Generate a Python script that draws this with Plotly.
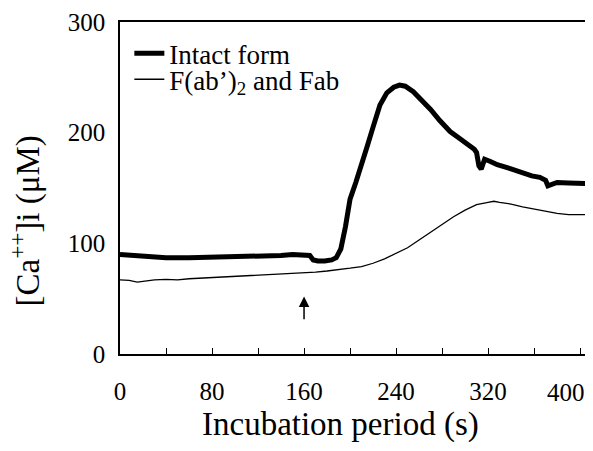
import plotly.graph_objects as go

# time (s) and [Ca++]i (uM)
intact_t = [0, 10, 20, 30, 40, 60, 80, 100, 120, 140, 150, 160, 165, 168, 172, 178, 184, 188, 192,
            196, 200, 205, 210, 215, 220, 226, 232, 238, 243, 248, 255, 262, 270, 278, 287, 295,
            302, 308, 310, 312, 314, 317, 322, 328, 338, 348, 358, 365, 370, 372, 375, 380, 390,
            400, 406]
intact_ca = [90, 89, 88, 87.5, 87, 87, 87.5, 88, 88, 89, 90, 90, 89, 85, 84, 84, 85, 87, 95,
             115, 140, 155, 170, 188, 205, 225, 236, 241, 243, 242, 237, 230, 221, 211, 201, 195,
             190, 185, 182, 170, 167, 176, 174, 171, 168, 164, 161, 159.6, 157, 152, 153, 155, 154.5,
             154, 154]

frag_t = [0, 8, 15, 22, 30, 40, 50, 60, 70, 80, 90, 100, 110, 120, 130, 140, 150, 160, 170, 180,
          190, 200, 210, 220, 230, 240, 250, 260, 270, 280, 290, 300, 310, 320, 325, 330, 340, 350,
          360, 370, 380, 390, 400, 406]
frag_ca = [67, 66.5, 65, 66, 67, 67.5, 67, 68, 68.5, 69, 69.5, 70, 70.5, 71, 71.5, 72, 72.5, 73,
           74, 75, 76, 77.5, 79, 82, 86, 91, 96, 103, 110, 117, 124, 130, 135, 137, 138, 137, 135.5,
           133, 131, 129, 127, 126, 126, 126]

x_ticks = [0, 80, 160, 240, 320, 400]
x_labels = ["0", "80", "160", "240", "320", ""]   # 400 is written separately, nudged left
last_tick = 400
y_ticks = [0, 100, 200, 300]
stim_t = 160

serif = "Liberation Serif, Times New Roman, serif"

fig = go.Figure()
fig.add_trace(go.Scatter(x=intact_t, y=intact_ca, mode="lines", name="Intact form",
                         line=dict(color="black", width=5), legend="legend"))
fig.add_trace(go.Scatter(x=frag_t, y=frag_ca, mode="lines", name="F(ab’)<sub>2</sub> and Fab",
                         line=dict(color="black", width=1.3), legend="legend2"))

# stimulus arrow
fig.add_annotation(x=stim_t, y=52, ax=stim_t, ay=30, xref="x", yref="y", axref="x", ayref="y",
                   text="", showarrow=True, arrowhead=2, arrowsize=1.4, arrowwidth=1.5,
                   arrowcolor="black")

# last x tick label, kept inside the page
fig.add_annotation(text=str(last_tick), x=last_tick, xref="x", y=-0.115, yref="paper",
                   showarrow=False, xshift=-14, font=dict(size=25),
                   xanchor="center", yanchor="middle")

# axis titles as annotations so the plot area stays fixed
fig.add_annotation(text="Incubation period (s)", x=0.473, y=-0.213, xref="paper", yref="paper",
                   showarrow=False, font=dict(size=33), xanchor="center", yanchor="middle")
fig.add_annotation(text="[Ca<sup>++</sup>]i (μM)", x=-0.203, y=0.40, xref="paper", yref="paper",
                   showarrow=False, textangle=-90, font=dict(size=33),
                   xanchor="center", yanchor="middle")

leg = dict(xanchor="left", yanchor="top", bgcolor="rgba(0,0,0,0)", font=dict(size=27))
fig.update_layout(
    # the page body adds an 8px margin; keep the page short enough to avoid a scrollbar
    width=585, height=435,
    margin=dict(l=112, r=6, t=14, b=89),
    paper_bgcolor="white", plot_bgcolor="white",
    font=dict(family=serif, color="black", size=20),
    showlegend=True,
    legend=dict(x=0.02, y=0.978, **leg),
    legend2=dict(x=0.02, y=0.900, **leg),
)
fig.update_xaxes(range=[0, 406], tickvals=x_ticks, ticktext=x_labels, ticks="inside", ticklen=6,
                 tickcolor="black",
                 minor=dict(dtick=40, ticks="inside", ticklen=6, tickcolor="black"),
                 showline=True, linecolor="black", linewidth=1.5, mirror=True,
                 showgrid=False, zeroline=False, ticklabelstandoff=14,
                 ticklabeloverflow="allow", automargin=False,
                 tickfont=dict(size=25))
fig.update_yaxes(range=[0, 300], tickvals=y_ticks, ticks="", showline=True, linecolor="black",
                 linewidth=1.5, mirror=True, showgrid=False, zeroline=False,
                 ticklabelstandoff=8, automargin=False, tickfont=dict(size=25))

fig.write_html("out.html")
